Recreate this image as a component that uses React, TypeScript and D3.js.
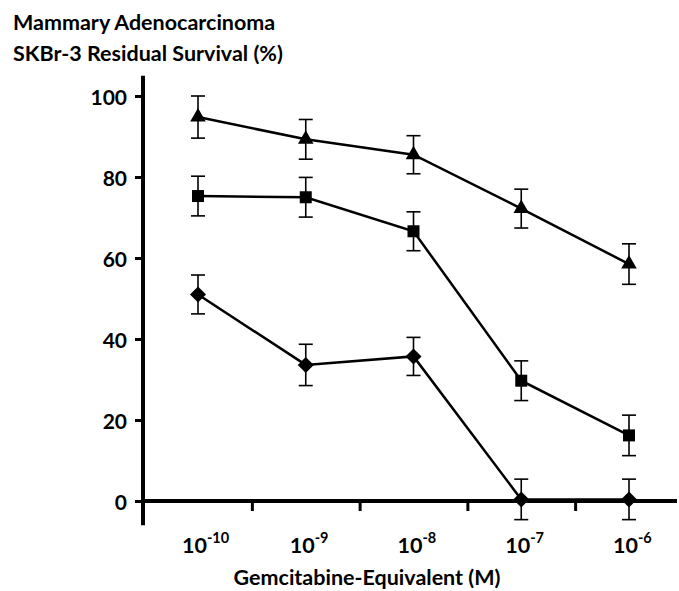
import * as React from 'react';
import * as d3 from 'd3';

// concentration exponents (10^x M)
const exponents = [-10, -9, -8, -7, -6];

const triangleValues = [94.8, 89.3, 85.5, 72.2, 58.5];
const triangleErrors = [5.2, 4.9, 4.7, 4.8, 5.0];
const squareValues = [75.3, 75.0, 66.6, 29.7, 16.2];
const squareErrors = [4.9, 4.9, 4.8, 4.9, 5.0];
const diamondValues = [51.0, 33.6, 35.7, 0.4, 0.4];
const diamondErrors = [4.8, 5.1, 4.7, 5.0, 5.0];

const yTicks = [0, 20, 40, 60, 80, 100];
const titleLines = ['Mammary Adenocarcinoma', 'SKBr-3 Residual Survival (%)'];
const xTitle = 'Gemcitabine-Equivalent (M)';

type Series = {
    symbol: d3.SymbolType,
    size: number,
    rotate: number,
    values: number[],
    errors: number[],
}

const series: Series[] = [
    { symbol: d3.symbolTriangle, size: 105, rotate: 0, values: triangleValues, errors: triangleErrors },
    { symbol: d3.symbolSquare, size: 144, rotate: 0, values: squareValues, errors: squareErrors },
    { symbol: d3.symbolSquare, size: 128, rotate: 45, values: diamondValues, errors: diamondErrors },
];

const App = () => {
    const chartRef = React.useRef<SVGSVGElement>(null);
    const width = 679;
    const height = 591;

    React.useEffect(() => {
        const svg = d3.select(chartRef.current);
        svg.selectAll('*').remove();
        const font = 'Lato, sans-serif';

        const x = d3.scaleLinear().domain([-10, -6]).range([198, 629]);
        const y = d3.scaleLinear().domain([0, 100]).range([501, 96]);

        // title, two lines
        svg.append('g')
            .selectAll('text')
            .data(titleLines)
            .join('text')
            .attr('x', 13)
            .attr('y', (d, i) => i === 0 ? 30 : 61)
            .attr('font-family', font)
            .attr('font-weight', 700)
            .attr('font-size', 21.5)
            .text(d => d);

        // y axis
        const yAxis = d3.axisLeft(y).tickValues(yTicks).tickSize(8).tickPadding(8);
        svg.append('g')
            .attr('transform', 'translate(143,0)')
            .call(yAxis)
            .attr('font-family', font)
            .attr('font-size', 21)
            .attr('font-weight', 700)
            .call(g => g.select('.domain').remove())
            .call(g => g.selectAll('.tick line').attr('stroke-width', 3))
            .call(g => g.selectAll('.tick text').attr('fill', '#000').attr('dy', '0.42em'));
        svg.append('line')
            .attr('x1', 143).attr('x2', 143)
            .attr('y1', y(105)).attr('y2', y(-6))
            .attr('stroke', '#000')
            .attr('stroke-width', 4);

        // x axis
        svg.append('line')
            .attr('x1', 141).attr('x2', 677)
            .attr('y1', y(0)).attr('y2', y(0))
            .attr('stroke', '#000')
            .attr('stroke-width', 4);
        const xAxis = d3.axisBottom(x)
            .tickValues(exponents.slice(1).map(e => e - 0.5))
            .tickSize(10)
            .tickFormat(() => '');
        svg.append('g')
            .attr('transform', `translate(0,${y(0)})`)
            .call(xAxis)
            .call(g => g.select('.domain').remove())
            .call(g => g.selectAll('.tick line').attr('stroke-width', 3));

        const xLabels = svg.append('g')
            .attr('font-family', font)
            .attr('font-weight', 700)
            .selectAll('text')
            .data(exponents)
            .join('text')
            .attr('x', d => x(d) - 16)
            .attr('y', 553)
            .attr('font-size', 21.5);
        xLabels.append('tspan').text('10');
        xLabels.append('tspan')
            .attr('dy', -10)
            .attr('font-size', 14.5)
            .text(d => String(d));

        svg.append('text')
            .attr('x', 367)
            .attr('y', 585)
            .attr('text-anchor', 'middle')
            .attr('font-family', font)
            .attr('font-weight', 700)
            .attr('font-size', 21.5)
            .text(xTitle);

        // series
        const line = d3.line<number>()
            .x((d, i) => x(exponents[i]))
            .y(d => y(d));

        series.forEach(s => {
            svg.append('path')
                .datum(s.values)
                .attr('fill', 'none')
                .attr('stroke', '#000')
                .attr('stroke-width', 2.5)
                .attr('d', line);

            const bars = svg.append('g')
                .attr('stroke', '#000')
                .attr('stroke-width', 1.6);
            s.values.forEach((v, i) => {
                const cx = x(exponents[i]);
                const top = y(v + s.errors[i]);
                const bottom = y(v - s.errors[i]);
                bars.append('line').attr('x1', cx).attr('x2', cx).attr('y1', top).attr('y2', bottom);
                bars.append('line').attr('x1', cx - 7).attr('x2', cx + 7).attr('y1', top).attr('y2', top);
                bars.append('line').attr('x1', cx - 7).attr('x2', cx + 7).attr('y1', bottom).attr('y2', bottom);
            });

            svg.append('g')
                .selectAll('path')
                .data(s.values)
                .join('path')
                .attr('transform', (d, i) => `translate(${x(exponents[i])},${y(d)}) rotate(${s.rotate})`)
                .attr('d', d3.symbol().type(s.symbol).size(s.size)())
                .attr('fill', '#000');
        });
    }, []);

    return (
        <svg ref={chartRef} width={width} height={height}
            style={{ position: 'absolute', left: 0, top: 0, background: '#fff' }}>
        </svg>
    );
}

export default App;
